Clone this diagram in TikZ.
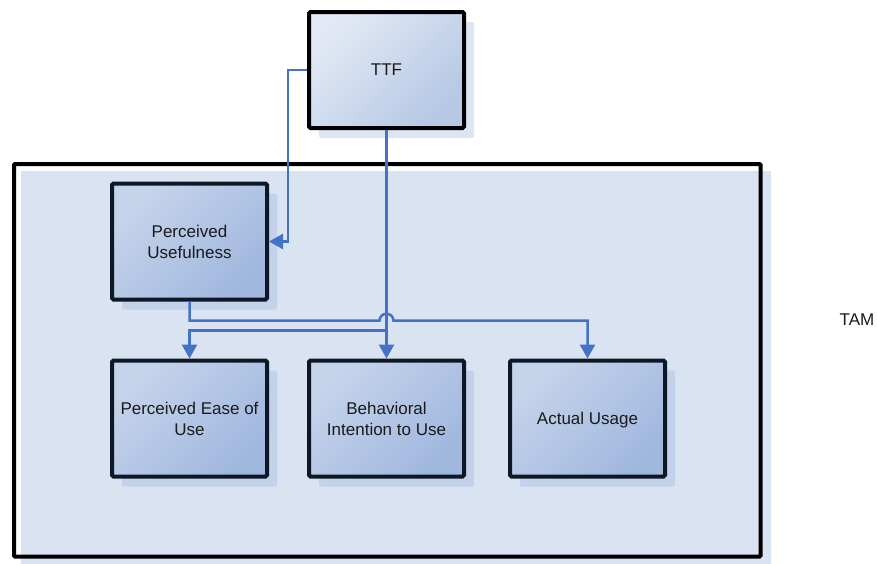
\documentclass[tikz,border=0pt]{standalone}
\usepackage{fontspec}
\setmainfont{Liberation Sans}
\usetikzlibrary{arrows.meta,shadows}

\definecolor{conncol}{HTML}{4472C4}
\definecolor{panelbg}{HTML}{DAE3F1}
\definecolor{boxedge}{HTML}{0E1726}
\definecolor{ttflight}{HTML}{E2E9F5}
\definecolor{ttfdark}{HTML}{B6C8E5}
\definecolor{boxlight}{HTML}{C6D4EB}
\definecolor{boxdark}{HTML}{A0B7DE}
\definecolor{shadowcol}{HTML}{8FAADC}
\definecolor{labelcol}{HTML}{1A1A1A}

\tikzset{
  boxbase/.style={
    rectangle, rounded corners=1.5pt, line width=4pt,
    minimum width=155pt, minimum height=116pt, inner sep=0pt,
    align=center, text=labelcol,
    font=\fontsize{17}{21}\selectfont,
    drop shadow={shadow xshift=10pt, shadow yshift=-10pt,
                 fill=shadowcol, opacity=0.3}
  },
  ttfbox/.style={boxbase, draw=black,
    top color=ttflight, bottom color=ttfdark, shading angle=45},
  tambox/.style={boxbase, draw=boxedge,
    top color=boxlight, bottom color=boxdark, shading angle=45},
  conn/.style={draw=conncol, line width=2.5pt,
    -{Triangle[width=15pt,length=14pt]}}
}

\begin{document}
\begin{tikzpicture}[x=1pt,y=-1pt]
  \useasboundingbox (0,0) rectangle (877,563);

  % TAM frame: offset light panel, then the black outline
  \fill[panelbg] (21,171) rectangle (771,566);
  \node[draw=black, line width=4pt, rounded corners=1pt,
        minimum width=746.5pt, minimum height=392.5pt, inner sep=0pt]
        (tam) at (387.25,360.25) {};
  \node[text=labelcol, font=\fontsize{17}{20}\selectfont] (tamlabel)
        at (857,320) {TAM};

  % construct boxes
  \node[ttfbox] (ttf)  at (386.5,70)    {TTF};
  \node[tambox] (pu)   at (189.5,241.5) {Perceived\\Usefulness};
  \node[tambox] (peou) at (189.5,418.5) {Perceived Ease of\\Use};
  \node[tambox] (bi)   at (386.5,418.5) {Behavioral\\Intention to Use};
  \node[tambox, text depth=0pt] (au) at (587.5,418.5) {Actual Usage};

  % routing rows for the connectors
  \coordinate (row1) at (0,320.7);
  \coordinate (row2) at (0,330.7);

  % TTF links
  \draw[conn] (ttf.west) -- ++(-19,0) |- (pu.east);
  \draw[conn] (ttf.south) -- (bi.north);
  \draw[conn] (ttf.south |- row2) -| (peou.north);

  % Perceived Usefulness to Actual Usage, hopping over the TTF line
  \draw[conn] (pu.south) |- ([xshift=-7pt]ttf.south |- row1)
     arc[start angle=180, end angle=360, radius=7] -| (au.north);
\end{tikzpicture}
\end{document}
